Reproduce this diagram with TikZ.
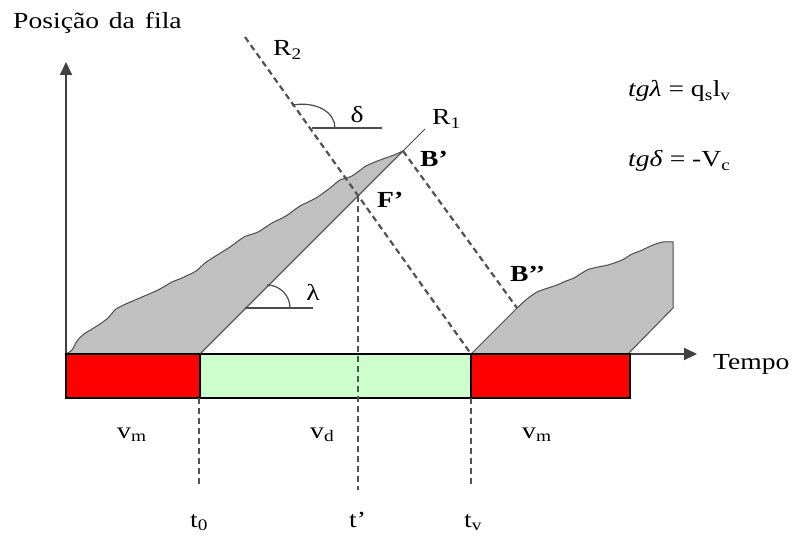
\documentclass[tikz,border=0pt]{standalone}
\usepackage{fontspec}
\setmainfont{Liberation Serif}[FakeStretch=1.2]
\usetikzlibrary{arrows.meta}
\definecolor{qgray}{RGB}{192,192,192}
\definecolor{lgreen}{RGB}{204,255,204}
\begin{document}
\begin{tikzpicture}[x=1pt,y=-1pt,
  lbl/.style={inner sep=0pt, font=\fontsize{23}{25}\selectfont},
  axisline/.style={draw=black!75, line width=1.8pt, -{Triangle[length=13pt,width=12pt]}},
  dsh/.style={draw=black!68, line width=2.2pt, dash pattern=on 6pt off 4pt},
  queue/.style={fill=qgray, draw=black!70, line width=1pt},
  thinline/.style={draw=black!70, line width=1pt},
  box/.style={draw=black, line width=1.4pt}]
\useasboundingbox (0,0) rectangle (798,537);
% key points
\coordinate (O) at (66,354);
\coordinate (Ytip) at (66,62);
\coordinate (Xtip) at (697,354);
\coordinate (T0) at (200,354);
\coordinate (TV) at (471,354);
\coordinate (R1end) at (425,129);
\coordinate (R2top) at (245,37);
\coordinate (Bp) at (403,151);
\coordinate (Fp) at (358,196);
\coordinate (Bpp) at (517,308);
\coordinate (Q2a) at (673,242);
\coordinate (Q2b) at (673,308);
\coordinate (Q2c) at (628,354);
% queue 1
\draw[queue] plot[smooth, tension=0.45] coordinates {(66,354) (72,350) (77,341) (84,334) (92,329) (100,324) (108,318) (116,309) (128,303) (142,297) (158,290) (172,282) (182,278) (196,271) (205,263) (214,257) (230,247) (244,237) (258,232) (272,223) (286,216) (300,206) (316,198) (330,188) (340,180) (352,176) (366,166) (380,160) (394,155) (403,151)} -- (T0) -- cycle;
% queue 2
\draw[queue] (TV) -- plot[smooth, tension=0.45] coordinates {(517,308) (527,299) (537,292) (548,288) (557,285) (566,281) (574,278) (587,270) (598,267) (608,265) (622,260) (632,254) (640,251) (653,245) (663,242) (673,242)} -- (Q2b) -- (Q2c) -- cycle;
% axes
\draw[axisline] (O) -- (Ytip);
\draw[axisline] (O) -- (Xtip);
% phase boxes
\draw[box, fill=red] (66,354) rectangle (200,398);
\draw[box, fill=lgreen] (200,354) rectangle (471,398);
\draw[box, fill=red] (471,354) rectangle (630,398);
% R1
\draw[thinline] (T0) -- (R1end);
% dashed lines
\draw[dsh] (R2top) -- (TV);
\draw[dsh] (Bp) -- (Bpp);
\draw[dsh] (Fp) -- (358,490);
\draw[dsh] (199,398) -- (199,487);
\draw[dsh] (471,398) -- (471,487);
% lambda angle
\draw[thinline, line width=1.3pt] (245,308) -- (313,308);
\draw[thinline, line width=1.2pt] (290,308) .. controls (290,295.3) and (279.7,285) .. (267,285);
% delta angle
\draw[thinline, line width=1.3pt] (312,128) -- (382,128);
\draw[thinline, line width=1.2pt] (335,128) .. controls (335,113) and (318,101) .. (292,105);
% labels
\node[lbl, anchor=base west] (ylab) at (13,29) {Posição\hspace{3pt} da\hspace{3pt} fila};
\node[lbl, anchor=base west] (xlab) at (713,370) {Tempo};
\node[lbl, anchor=base west] (r2) at (273,56) {R\textsubscript{2}};
\node[lbl, anchor=base west] (r1) at (432,125) {R\textsubscript{1}};
\node[lbl, anchor=base west] (bpl) at (420,167) {\textbf{B’}};
\node[lbl, anchor=base west] (fpl) at (377,208) {\textbf{F’}};
\node[lbl, anchor=base west] (bppl) at (510,282) {\textbf{B’’}};
\node[lbl] (dl) at (357,115) {δ};
\node[lbl] (ll) at (313,292) {λ};
\node[lbl, anchor=base west] (vm1) at (117,438) {v\textsubscript{m}};
\node[lbl, anchor=base west] (vd) at (310,438) {v\textsubscript{d}};
\node[lbl, anchor=base west] (vm2) at (522,438) {v\textsubscript{m}};
\node[lbl, anchor=base west] (t0) at (190,527) {t\textsubscript{0}};
\node[lbl, anchor=base west] (tp) at (349,527) {t’};
\node[lbl, anchor=base west] (tv) at (464,527) {t\textsubscript{v}};
\node[lbl, anchor=base west] (f1) at (628,97) {\textit{tgλ} = q\textsubscript{s}l\textsubscript{v}};
\node[lbl, anchor=base west] (f2) at (628,167) {\textit{tgδ} = -V\textsubscript{c}};
\end{tikzpicture}
\end{document}
